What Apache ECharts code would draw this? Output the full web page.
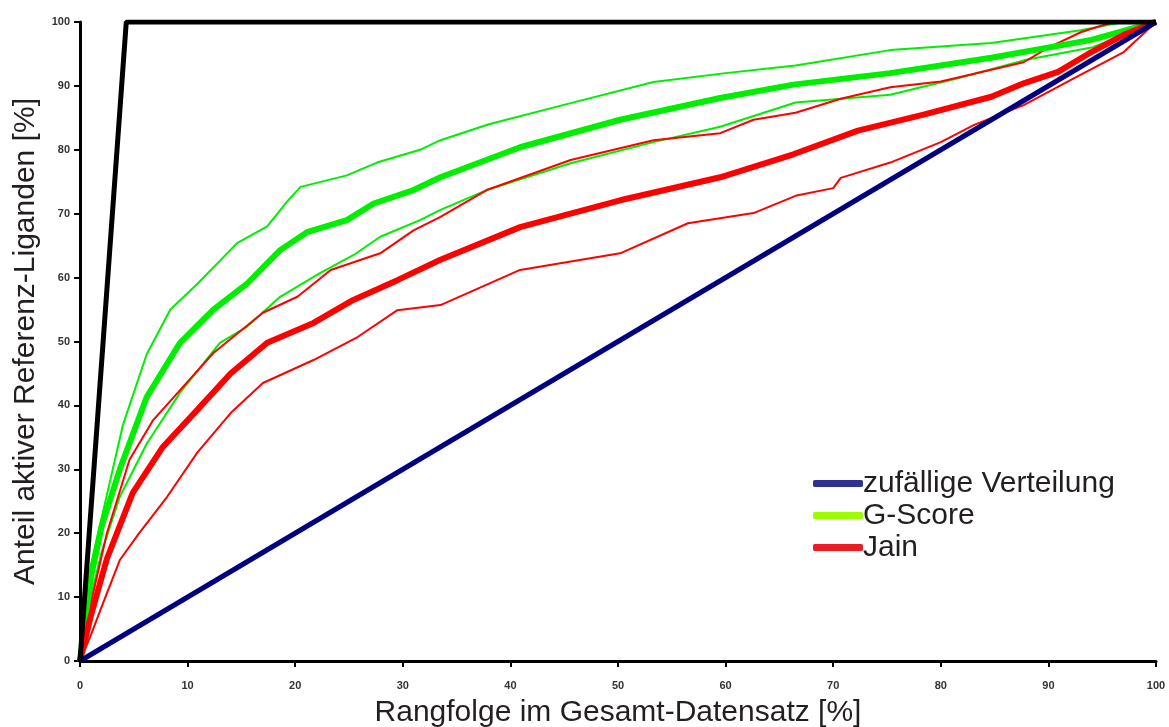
<!DOCTYPE html>
<html>
<head>
<meta charset="utf-8">
<script src="https://cdn.jsdelivr.net/npm/echarts@6/dist/echarts.min.js"></script>
<style>
  html, body { margin: 0; padding: 0; background: #fff; }
  #chart { width: 1169px; height: 727px; }
</style>
</head>
<body>
<div id="chart"></div>
<script>
  // Kurven als [Rangfolge %, Anteil %]
  const ideal = [[0, 0], [4.3, 100], [100, 100]];
  const zufall = [[0, 0], [100, 100]];

  const gScore = [[0, 0], [1, 13], [2, 21], [3.7, 30], [6.2, 41.3], [9.3, 49.8], [12.4, 55], [15.5, 59], [18.6, 64.3],
    [21.1, 67.1], [24.8, 69], [27.3, 71.6], [31, 73.7], [33.5, 75.7], [40.9, 80.4], [50.2, 84.7], [59.5, 88.1],
    [66.3, 90.2], [75.3, 92], [84.7, 94.4], [94, 97.2], [100, 100]];
  const gScoreOben = [[0, 0], [1, 15], [2.5, 26], [4, 37], [6.2, 48], [8.4, 55], [10.9, 59], [14.6, 65.4], [17.4, 68],
    [19.3, 72], [20.5, 74.2], [24.8, 76], [27.6, 78], [31.6, 80], [33.5, 81.5], [38, 84], [45.6, 87.3], [53.3, 90.6],
    [60, 92], [66.5, 93.2], [75.3, 95.6], [84.7, 96.7], [93, 98.7], [97, 100], [100, 100]];
  const gScoreUnten = [[0, 0], [1, 10], [2, 17], [3.7, 25.7], [6.2, 34], [9.3, 42], [13, 49.8], [15.5, 52.3], [18.6, 57],
    [22.3, 60.7], [25.4, 63.5], [27.9, 66.4], [31.6, 69], [33.5, 70.6], [37.8, 73.7], [45.6, 77.9], [53.3, 81.2],
    [59.5, 83.6], [66.5, 87.4], [75.3, 88.6], [81.6, 91.2], [87.7, 94], [94, 96], [100, 100]];

  const jain = [[0, 0], [1, 7], [2.5, 16], [4.9, 26.3], [7.7, 33.5], [10.9, 39.3], [14, 45], [17.4, 49.8], [21.7, 52.9],
    [25.4, 56.5], [29.5, 59.6], [33.5, 62.8], [40.9, 67.9], [50.2, 72.1], [59.5, 75.7], [66.3, 79.3], [72.3, 83],
    [78.4, 85.5], [84.7, 88.3], [87.7, 90.4], [90.9, 92.2], [94, 95.3], [97, 98], [100, 100]];
  const jainOben = [[0, 0], [1, 9], [2.5, 20], [4.6, 31.5], [6.8, 37.7], [9.3, 42.4], [12.4, 48.2], [17, 54.5], [20.2, 57],
    [23.3, 61.2], [27.9, 63.8], [31, 67.4], [33.5, 69.5], [37.8, 73.7], [45.6, 78.4], [53.3, 81.5], [59.5, 82.6],
    [62.6, 84.7], [66.5, 85.8], [70.7, 88], [75.3, 89.8], [80, 90.7], [87.7, 93.7], [90, 96], [93, 98.4], [96, 100], [100, 100]];
  const jainUnten = [[0, 0], [1, 4], [1.9, 8], [3.7, 15.8], [5.5, 20], [8.1, 25.7], [10.9, 32.6], [14, 38.8], [17, 43.5],
    [21.7, 47.1], [25.8, 50.7], [29.5, 54.9], [33.5, 55.7], [40.9, 61.2], [50.2, 63.8], [56.5, 68.5], [62.6, 70.1],
    [66.5, 72.8], [70, 74], [70.7, 75.6], [75.3, 78], [80, 81.2], [83.1, 83.9], [87.7, 87], [92.4, 91.2], [97, 95.3], [100, 100]];

  const xTicks = [0, 10, 20, 30, 40, 50, 60, 70, 80, 90, 100];

  const FONT = 'Liberation Sans, Arial, sans-serif';

  function linie(name, data, color, width, z) {
    return {
      name: name,
      type: 'line',
      data: data,
      symbol: 'none',
      z: z,
      lineStyle: { color: color, width: width },
      itemStyle: { color: color },
      animation: false
    };
  }

  const chart = echarts.init(document.getElementById('chart'));
  chart.setOption({
    backgroundColor: '#fff',
    grid: { left: 80, right: 13, top: 22, bottom: 66, containLabel: false, outerBoundsMode: 'none' },
    legend: {
      left: 808,
      top: 463,
      orient: 'vertical',
      icon: 'roundRect',
      itemWidth: 50,
      itemHeight: 7,
      itemGap: 1,
      textStyle: { fontFamily: FONT, fontSize: 30, color: '#231f20', lineHeight: 31, padding: [0, 0, 0, -5] },
      data: [
        { name: 'zufällige Verteilung', itemStyle: { color: '#2e3192' } },
        { name: 'G-Score', itemStyle: { color: '#99ff00' } },
        { name: 'Jain', itemStyle: { color: '#ed1c24' } }
      ]
    },
    xAxis: {
      type: 'value',
      min: xTicks[0],
      max: xTicks[xTicks.length - 1],
      interval: 10,
      name: 'Rangfolge im Gesamt-Datensatz [%]',
      nameLocation: 'middle',
      nameGap: 37,
      nameTextStyle: { fontFamily: FONT, fontSize: 30, color: '#231f20' },
      axisLine: { lineStyle: { color: '#000', width: 3 } },
      axisTick: { length: 6, lineStyle: { color: '#000', width: 2 } },
      axisLabel: { margin: 19, fontFamily: FONT, fontSize: 11, fontWeight: 'bold', color: '#333' },
      splitLine: { show: false }
    },
    yAxis: {
      type: 'value',
      min: 0,
      max: 100,
      interval: 10,
      name: 'Anteil aktiver Referenz-Liganden [%]',
      nameLocation: 'middle',
      nameGap: 33,
      nameTextStyle: { fontFamily: FONT, fontSize: 30, color: '#231f20' },
      axisLine: { show: true, lineStyle: { color: '#000', width: 3 } },
      axisTick: { show: true, length: 6, lineStyle: { color: '#000', width: 2 } },
      axisLabel: { margin: 10, fontFamily: FONT, fontSize: 11, fontWeight: 'bold', color: '#333' },
      splitLine: { show: false }
    },
    series: [
      linie('G-Score oben', gScoreOben, '#00ee00', 2, 2),
      linie('G-Score unten', gScoreUnten, '#00ee00', 2, 2),
      linie('Jain oben', jainOben, '#ff0000', 2, 2),
      linie('Jain unten', jainUnten, '#ff0000', 2, 2),
      linie('G-Score', gScore, '#00ee00', 6, 3),
      linie('Jain', jain, '#ff0000', 6, 3),
      linie('zufällige Verteilung', zufall, '#000080', 5, 4),
      linie('ideal', ideal, '#000000', 5, 5)
    ]
  });
</script>
</body>
</html>
